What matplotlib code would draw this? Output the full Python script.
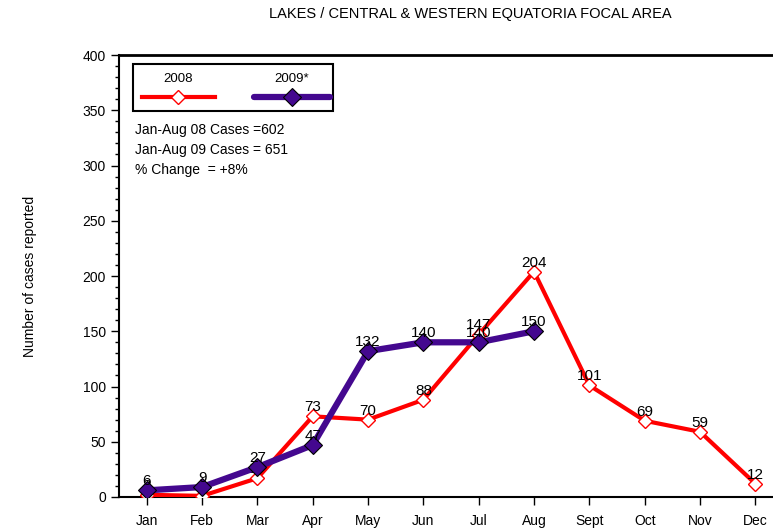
import matplotlib.pyplot as plt
from matplotlib.lines import Line2D
from matplotlib.patches import Rectangle
from matplotlib.ticker import MultipleLocator

plt.rcParams['font.family'] = ['Liberation Sans', 'DejaVu Sans']

# --- Data ---
months = ['Jan', 'Feb', 'Mar', 'Apr', 'May', 'Jun', 'Jul', 'Aug', 'Sept', 'Oct', 'Nov', 'Dec']
cases_2008 = [2, 1, 17, 73, 70, 88, 147, 204, 101, 69, 59, 12]
cases_2009 = [6, 9, 27, 47, 132, 140, 140, 150]
notes = ['Jan-Aug 08 Cases =602', 'Jan-Aug 09 Cases = 651', '% Change  = +8%']

RED = '#ff0000'
PURPLE = '#44088f'

fig = plt.figure(figsize=(7.73, 5.29), dpi=100)
ax = fig.add_axes([0.154, 0.0605, 0.859, 0.8355])

x08 = list(range(len(cases_2008)))
x09 = list(range(len(cases_2009)))

# 2008 line, hollow diamonds
ax.plot(x08, cases_2008, color=RED, lw=3, marker='D', markersize=7,
        markerfacecolor='white', markeredgecolor=RED, markeredgewidth=1, zorder=3)
for x, v in zip(x08, cases_2008):
    ax.annotate(str(v), (x, v), xytext=(0, 1.5), textcoords='offset points',
                ha='center', va='bottom', fontsize=11, zorder=4)

# 2009 line, filled diamonds
ax.plot(x09, cases_2009, color=PURPLE, lw=4.5, marker='D', markersize=9,
        markerfacecolor=PURPLE, markeredgecolor='black', markeredgewidth=0.8, zorder=5)
for x, v in zip(x09, cases_2009):
    ax.annotate(str(v), (x, v), xytext=(0, 1.5), textcoords='offset points',
                ha='center', va='bottom', fontsize=11, zorder=6)

ax.set_xlim(-0.5, len(months) - 0.5)
ax.set_ylim(0, 400)
ax.set_xticks(range(len(months)))
ax.set_xticklabels(months, fontsize=10)
ax.yaxis.set_major_locator(MultipleLocator(50))
ax.yaxis.set_minor_locator(MultipleLocator(10))
ax.tick_params(axis='y', which='major', direction='out', length=6, width=1, labelsize=10)
ax.tick_params(axis='y', which='minor', direction='out', length=3, width=1)
ax.tick_params(axis='x', direction='out', length=6, width=1, labelsize=10, pad=6)

ax.spines['right'].set_visible(False)
ax.spines['left'].set_linewidth(1.5)
ax.spines['bottom'].set_linewidth(1.5)
ax.spines['top'].set_linewidth(2)

ax.set_ylabel('Number of cases reported', fontsize=10, labelpad=33)
fig.text(0.609, 0.973, 'LAKES / CENTRAL & WESTERN EQUATORIA FOCAL AREA',
         ha='center', va='center', fontsize=10.5)

# Hand-made legend box (labels sit above the line samples)
tr = ax.transAxes
ax.add_patch(Rectangle((0.021, 0.873), 0.301, 0.1066, transform=tr,
                       fill=False, edgecolor='black', lw=1.5, zorder=7))
ax.add_line(Line2D([0.0346, 0.1446], [0.905, 0.905], transform=tr, color=RED, lw=3, zorder=8))
ax.add_line(Line2D([0.0889], [0.905], transform=tr, marker='D', markersize=7,
                   markerfacecolor='white', markeredgecolor=RED, zorder=9))
ax.add_line(Line2D([0.203, 0.318], [0.905, 0.905], transform=tr, color=PURPLE, lw=4.5,
                   solid_capstyle='round', zorder=8))
ax.add_line(Line2D([0.2605], [0.905], transform=tr, marker='D', markersize=9,
                   markerfacecolor=PURPLE, markeredgecolor='black', markeredgewidth=0.8, zorder=9))
ax.text(0.0889, 0.946, '2008', transform=tr, ha='center', va='center', fontsize=9.5)
ax.text(0.2605, 0.946, '2009*', transform=tr, ha='center', va='center', fontsize=9.5)

for i, line in enumerate(notes):
    ax.text(0.024, 0.830 - i * 0.045, line, transform=tr, ha='left', va='center', fontsize=10)

fig.savefig('out.png', dpi=100)
